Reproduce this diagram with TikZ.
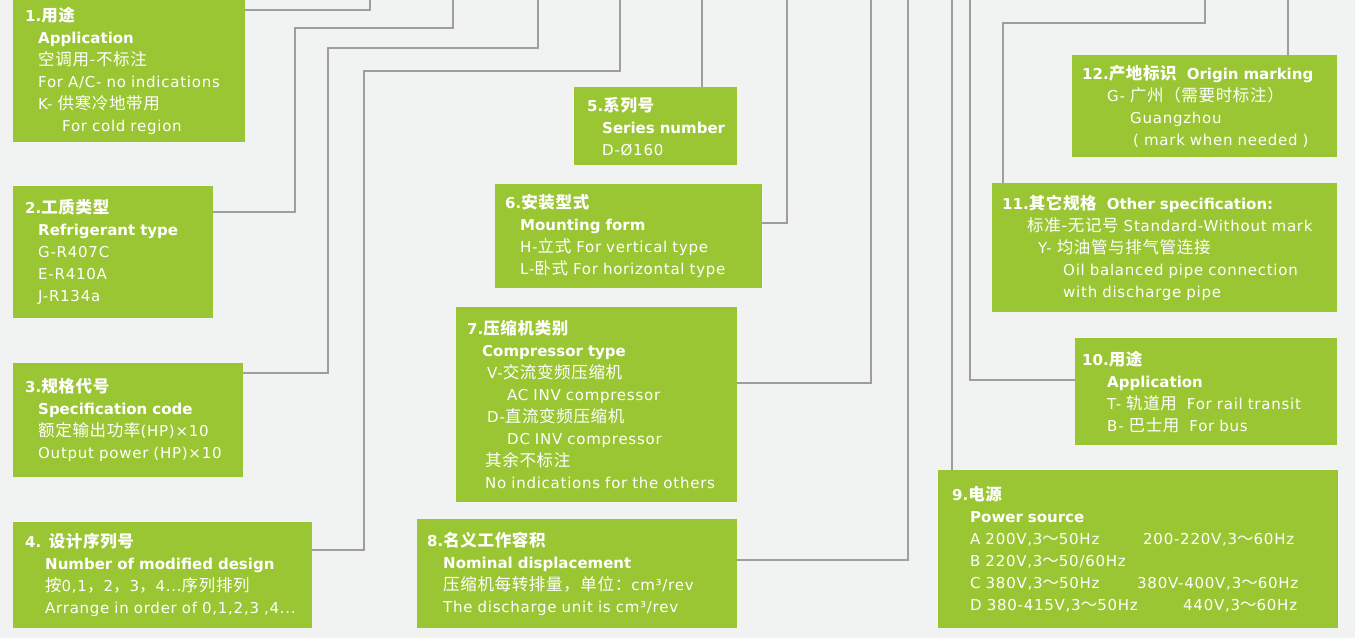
\documentclass[tikz,border=0pt]{standalone}
\usepackage{fontspec}
\setmainfont{DejaVu Sans}[LetterSpace=5, BoldFeatures={LetterSpace=0}]
\newfontfamily\zhfont{Noto Sans CJK SC}[Scale=1.1, LetterSpace=4]
\usetikzlibrary{positioning}
\newcommand{\zh}[1]{{\zhfont #1}}
\newcommand{\specline}[2]{\mbox{\hspace*{#1pt}#2}}
\definecolor{specgreen}{RGB}{155,198,52}
\definecolor{linkgrey}{RGB}{160,157,162}
\definecolor{pagebg}{RGB}{241,243,243}
\tikzset{
  spec/.style={rectangle, fill=specgreen, text=white, align=left, anchor=north west,
    inner xsep=0pt, inner ysep=0pt, font=\fontsize{15}{22}\selectfont},
  link/.style={draw=linkgrey, line width=1.3pt},
}

\begin{document}
\begin{tikzpicture}[x=1pt, y=-1pt]
  \useasboundingbox (0,0) rectangle (1355,638);
  \fill[pagebg] (0,0) rectangle (1355,638);

  % left column
  \node[spec, text width=232pt, minimum height=142pt] (use) at (13,0) {%
    \specline{12}{\textbf{1.\zh{用途}}}\\
    \specline{25}{\textbf{Application}}\\
    \specline{25}{\zh{空调用-不标注}}\\
    \specline{25}{For A/C- no indications}\\
    \specline{25}{K- \zh{供寒冷地带用}}\\
    \specline{49}{For cold region}};
  \node[spec, text width=200pt, minimum height=132pt] (refrig) at (13,186) {%
    \specline{12}{\textbf{2.\zh{工质类型}}}\\
    \specline{25}{\textbf{Refrigerant type}}\\
    \specline{25}{G-R407C}\\
    \specline{25}{E-R410A}\\
    \specline{25}{J-R134a}};
  \node[spec, text width=230pt, minimum height=114pt] (code) at (13,363) {%
    \specline{12}{\textbf{3.\zh{规格代号}}}\\
    \specline{25}{\textbf{Specification code}}\\
    \specline{25}{\zh{额定输出功率}(HP)×10}\\
    \specline{25}{Output power (HP)×10}};
  \node[spec, text width=299pt, minimum height=106pt] (design) at (13,522) {%
    \specline{12}{\textbf{4. \zh{设计序列号}}}\\
    \specline{32}{\textbf{Number of modified design}}\\
    \specline{32}{\zh{按}0,1\zh{，}2\zh{，}3\zh{，}4...\zh{序列排列}}\\
    \specline{32}{Arrange in order of 0,1,2,3 ,4...}};

  % middle column
  \node[spec, text width=163pt, minimum height=78pt] (series) at (574,87) {%
    \specline{13}{\textbf{5.\zh{系列号}}}\\
    \specline{28}{\textbf{Series number}}\\
    \specline{28}{D-Ø160}};
  \node[spec, text width=267pt, minimum height=104pt] (mount) at (495,184) {%
    \specline{10}{\textbf{6.\zh{安装型式}}}\\
    \specline{25}{\textbf{Mounting form}}\\
    \specline{25}{H-\zh{立式} For vertical type}\\
    \specline{25}{L-\zh{卧式} For horizontal type}};
  \node[spec, text width=281pt, minimum height=195pt] (comp) at (456,307) {%
    \specline{11}{\textbf{7.\zh{压缩机类别}}}\\
    \specline{26}{\textbf{Compressor type}}\\
    \specline{31}{V-\zh{交流变频压缩机}}\\
    \specline{51}{AC INV compressor}\\
    \specline{31}{D-\zh{直流变频压缩机}}\\
    \specline{51}{DC INV compressor}\\
    \specline{29}{\zh{其余不标注}}\\
    \specline{29}{No indications for the others}};
  \node[spec, text width=320pt, minimum height=109pt] (disp) at (417,519) {%
    \specline{10}{\textbf{8.\zh{名义工作容积}}}\\
    \specline{26}{\textbf{Nominal displacement}}\\
    \specline{26}{\zh{压缩机每转排量，单位：}cm³/rev}\\
    \specline{26}{The discharge unit is cm³/rev}};

  % right column
  \node[spec, text width=265pt, minimum height=102pt] (origin) at (1072,55) {%
    \specline{10}{\textbf{12.\zh{产地标识}\ \ Origin marking}}\\
    \specline{35}{G- \zh{广州（需要时标注）}}\\
    \specline{58}{Guangzhou}\\
    \specline{61}{( mark when needed )}};
  \node[spec, text width=345pt, minimum height=129pt] (other) at (992,183) {%
    \specline{10}{\textbf{11.\zh{其它规格}\ \ Other specification:}}\\
    \specline{35}{\zh{标准-无记号} Standard-Without mark}\\
    \specline{46}{Y- \zh{均油管与排气管连接}}\\
    \specline{71}{Oil balanced pipe connection}\\
    \specline{71}{with discharge pipe}};
  \node[spec, text width=262pt, minimum height=107pt] (appl) at (1075,338) {%
    \specline{7}{\textbf{10.\zh{用途}}}\\
    \specline{32}{\textbf{Application}}\\
    \specline{32}{T- \zh{轨道用}\ \ For rail transit}\\
    \specline{32}{B- \zh{巴士用}\ \ For bus}};
  \node[spec, text width=400pt, minimum height=158pt] (power) at (938,470) {%
    \specline{14}{\textbf{9.\zh{电源}}}\\
    \specline{32}{\textbf{Power source}}\\
    \specline{32}{\makebox[173pt][l]{A 200V,3\zh{～}50Hz}200-220V,3\zh{～}60Hz}\\
    \specline{32}{B 220V,3\zh{～}50/60Hz}\\
    \specline{32}{\makebox[167pt][l]{C 380V,3\zh{～}50Hz}380V-400V,3\zh{～}60Hz}\\
    \specline{32}{\makebox[213pt][l]{D 380-415V,3\zh{～}50Hz}440V,3\zh{～}60Hz}};

  % free ends at the top edge
  \coordinate (topuse)    at (370,0);
  \coordinate (toprefrig) at (453,0);
  \coordinate (topcode)   at (538,0);
  \coordinate (topdesign) at (620,0);
  \coordinate (topseries) at (702,0);
  \coordinate (topmount)  at (787,0);
  \coordinate (topcomp)   at (871,0);
  \coordinate (topdisp)   at (908,0);
  \coordinate (toppower)  at (952,0);
  \coordinate (topappl)   at (970,0);
  \coordinate (topother)  at (1205,0);
  \coordinate (toporigin) at (1288,0);

  \draw[link] ([yshift=-10pt]use.north east) -| (topuse);
  \draw[link] ([yshift=-26pt]refrig.north east) -| (295,28) -| (toprefrig);
  \draw[link] ([yshift=-10pt]code.north east) -| (328,48) -| (topcode);
  \draw[link] ([yshift=-28pt]design.north east) -| (364,71) -| (topdesign);
  \draw[link] (topseries) -- (topseries |- series.north);
  \draw[link] ([yshift=-39pt]mount.north east) -| (topmount);
  \draw[link] ([yshift=-76pt]comp.north east) -| (topcomp);
  \draw[link] ([yshift=-41pt]disp.north east) -| (topdisp);
  \draw[link] (toppower) -- (toppower |- power.north);
  \draw[link] ([yshift=-42pt]appl.north west) -| (topappl);
  \draw[link] ([xshift=11pt]other.north west) |- (1205,23) -- (topother);
  \draw[link] (toporigin) -- (toporigin |- origin.north);
\end{tikzpicture}
\end{document}
